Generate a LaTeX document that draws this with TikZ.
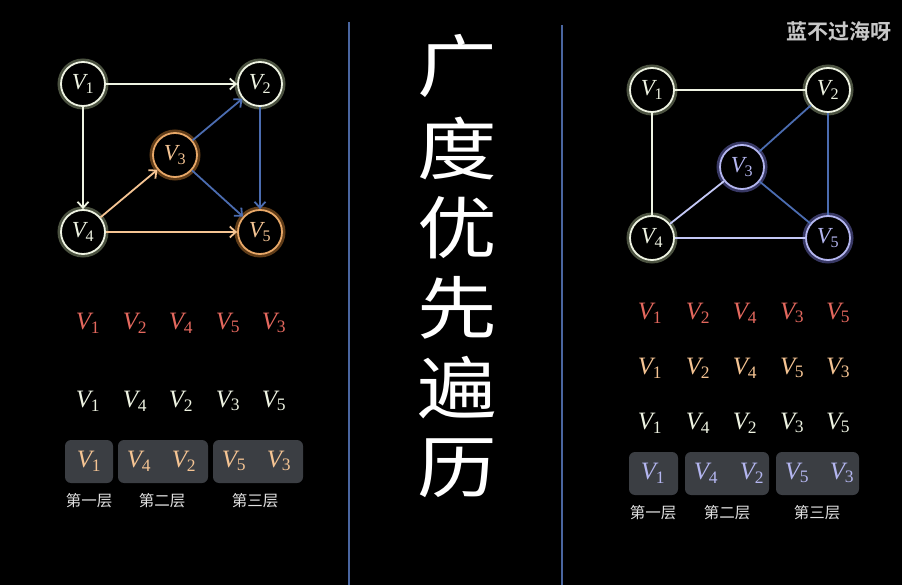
\documentclass[tikz,border=0pt]{standalone}
\usepackage{fontspec}
\usetikzlibrary{arrows.meta}
\newfontfamily\cjk{Noto Sans CJK SC}
\newfontfamily\cjkb{Noto Sans CJK SC}[BoldFont={* Bold}]
\newfontfamily\vfont{Liberation Serif}
\newcommand\vx[1]{{\vfont\itshape V}\kern-0.02em\textsubscript{\vfont\upshape #1}}
\newcommand\wide[1]{\scalebox{1.17}[1]{#1}}
\definecolor{bgc}{HTML}{000000}
\definecolor{cream}{HTML}{EEF3E2}
\definecolor{creamglow}{HTML}{A8B890}
\definecolor{orangev}{HTML}{E8A868}
\definecolor{orangeglow}{HTML}{C07830}
\definecolor{peach}{HTML}{F5C493}
\definecolor{bluee}{HTML}{4B6CB0}
\definecolor{lavv}{HTML}{B4B6F0}
\definecolor{lavglow}{HTML}{7070C8}
\definecolor{lave}{HTML}{C4C8F6}
\definecolor{redt}{HTML}{E4685E}
\definecolor{boxc}{HTML}{3B3E43}
\definecolor{sepc}{HTML}{4A66A0}
\definecolor{greyt}{HTML}{E2E2E2}
\definecolor{wmark}{HTML}{C8C8C8}
\tikzset{
  vtx/.style={circle, minimum size=44pt, inner sep=0pt, line width=1.8pt, fill=black,
    font=\fontsize{23}{23}\selectfont},
  creamv/.style={vtx, draw=cream, text=cream, preaction={draw=creamglow, line width=7pt, opacity=0.45}},
  orangenode/.style={vtx, draw=orangev, text=peach, preaction={draw=orangeglow, line width=7pt, opacity=0.5}},
  lavnode/.style={vtx, draw=lavv, text=lavv, preaction={draw=lavglow, line width=7pt, opacity=0.5}},
  arr/.style={line width=1.8pt, -{Straight Barb[length=6pt,width=11pt]}},
  und/.style={line width=1.8pt},
  seq/.style={inner sep=0pt, font=\fontsize{25}{25}\selectfont},
  lvbox/.style={fill=boxc, rounded corners=6pt, draw=none},
  layer/.style={font=\cjk\fontsize{15.5}{15.5}\selectfont, text=greyt, inner sep=0pt},
  ttl/.style={font=\cjk\fontsize{68}{68}\selectfont, text=white, inner sep=0pt},
  sep/.style={draw=sepc, line width=2pt}
}
\begin{document}
\begin{tikzpicture}[x=1pt,y=-1pt]
\fill[bgc] (0,0) rectangle (902,585);
\useasboundingbox (0,0) rectangle (902,585);

% ---------- left graph ----------
\node[creamv] (L1) at (83,84) {\vx{1}};
\node[creamv] (L2) at (260,84) {\vx{2}};
\node[orangenode] (L3) at (175,155) {\vx{3}};
\node[creamv] (L4) at (83,232) {\vx{4}};
\node[orangenode] (L5) at (260,232) {\vx{5}};
\draw[arr, cream] (L1) -- (L2);
\draw[arr, cream] (L1) -- (L4);
\draw[arr, peach] (L4) -- (L3);
\draw[arr, peach] (L4) -- (L5);
\draw[arr, bluee] (L3) -- (L2);
\draw[arr, bluee] (L3) -- (L5);
\draw[arr, bluee] (L2) -- (L5);

% ---------- right graph ----------
\node[creamv] (R1) at (652,90) {\vx{1}};
\node[creamv] (R2) at (828,90) {\vx{2}};
\node[lavnode] (R3) at (742,167) {\vx{3}};
\node[creamv] (R4) at (652,238) {\vx{4}};
\node[lavnode] (R5) at (828,238) {\vx{5}};
\draw[und, cream] (R1) -- (R2);
\draw[und, cream] (R1) -- (R4);
\draw[und, bluee] (R2) -- (R3);
\draw[und, bluee] (R3) -- (R5);
\draw[und, bluee] (R2) -- (R5);
\draw[und, lave] (R3) -- (R4);
\draw[und, lave] (R4) -- (R5);

% ---------- left sequences ----------
\node[seq, text=redt] (la1) at (88,323) {\vx{1}};
\node[seq, text=redt] (la2) at (135,323) {\vx{2}};
\node[seq, text=redt] (la3) at (181,323) {\vx{4}};
\node[seq, text=redt] (la4) at (228,323) {\vx{5}};
\node[seq, text=redt] (la5) at (274,323) {\vx{3}};

\node[seq, text=cream] (lb1) at (88,401) {\vx{1}};
\node[seq, text=cream] (lb2) at (135,401) {\vx{4}};
\node[seq, text=cream] (lb3) at (181,401) {\vx{2}};
\node[seq, text=cream] (lb4) at (228,401) {\vx{3}};
\node[seq, text=cream] (lb5) at (274,401) {\vx{5}};

\fill[lvbox] (65,440) rectangle (113,483);
\fill[lvbox] (118,440) rectangle (208,483);
\fill[lvbox] (213,440) rectangle (303,483);
\node[seq, text=peach] (lc1) at (89,461) {\vx{1}};
\node[seq, text=peach] (lc2) at (139,461) {\vx{4}};
\node[seq, text=peach] (lc3) at (184,461) {\vx{2}};
\node[seq, text=peach] (lc4) at (234,461) {\vx{5}};
\node[seq, text=peach] (lc5) at (279,461) {\vx{3}};
\node[layer] (lt1) at (89,501) {第一层};
\node[layer] (lt2) at (162,501) {第二层};
\node[layer] (lt3) at (255,501) {第三层};

% ---------- right sequences ----------
\node[seq, text=redt] (ra1) at (650,313) {\vx{1}};
\node[seq, text=redt] (ra2) at (698,313) {\vx{2}};
\node[seq, text=redt] (ra3) at (745,313) {\vx{4}};
\node[seq, text=redt] (ra4) at (792,313) {\vx{3}};
\node[seq, text=redt] (ra5) at (838,313) {\vx{5}};

\node[seq, text=peach] (rb1) at (650,368) {\vx{1}};
\node[seq, text=peach] (rb2) at (698,368) {\vx{2}};
\node[seq, text=peach] (rb3) at (745,368) {\vx{4}};
\node[seq, text=peach] (rb4) at (792,368) {\vx{5}};
\node[seq, text=peach] (rb5) at (838,368) {\vx{3}};

\node[seq, text=cream] (rc1) at (650,423) {\vx{1}};
\node[seq, text=cream] (rc2) at (698,423) {\vx{4}};
\node[seq, text=cream] (rc3) at (745,423) {\vx{2}};
\node[seq, text=cream] (rc4) at (792,423) {\vx{3}};
\node[seq, text=cream] (rc5) at (838,423) {\vx{5}};

\fill[lvbox] (629,452) rectangle (678,495);
\fill[lvbox] (685,452) rectangle (769,495);
\fill[lvbox] (776,452) rectangle (859,495);
\node[seq, text=lavv] (rd1) at (653,473) {\vx{1}};
\node[seq, text=lavv] (rd2) at (706,473) {\vx{4}};
\node[seq, text=lavv] (rd3) at (752,473) {\vx{2}};
\node[seq, text=lavv] (rd4) at (797,473) {\vx{5}};
\node[seq, text=lavv] (rd5) at (842,473) {\vx{3}};
\node[layer] (rt1) at (653,513) {第一层};
\node[layer] (rt2) at (727,513) {第二层};
\node[layer] (rt3) at (817,513) {第三层};

% ---------- middle ----------
\coordinate (s1a) at (349,22);
\coordinate (s1b) at (349,585);
\coordinate (s2a) at (562,25);
\coordinate (s2b) at (562,585);
\draw[sep] (s1a) -- (s1b);
\draw[sep] (s2a) -- (s2b);
\node[ttl] (t1) at (457,66) {\wide{广}};
\node[ttl] (t2) at (457,148) {\wide{度}};
\node[ttl] (t3) at (457,228) {\wide{优}};
\node[ttl] (t4) at (457,308) {\wide{先}};
\node[ttl] (t5) at (457,388) {\wide{遍}};
\node[ttl] (t6) at (457,468) {\wide{历}};

% ---------- watermark ----------
\node[font=\cjkb\bfseries\fontsize{21}{21}\selectfont, text=wmark, inner sep=0pt] (wm) at (839,32) {蓝不过海呀};
\end{tikzpicture}
\end{document}
